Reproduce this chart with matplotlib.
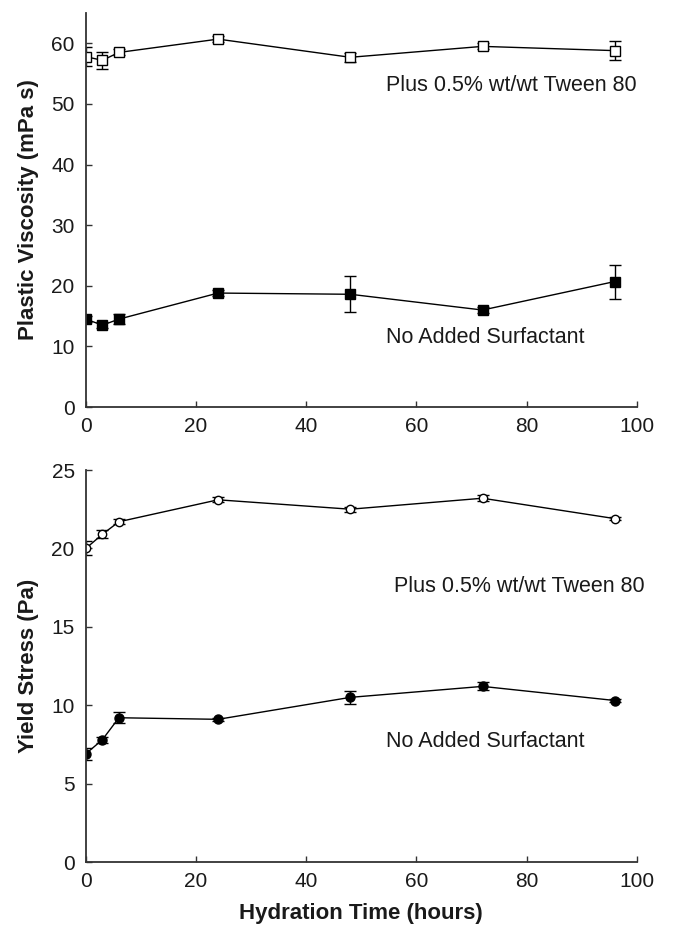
import matplotlib
matplotlib.use("Agg")
import matplotlib.pyplot as plt

plt.rcParams['font.family'] = ['Liberation Sans', 'DejaVu Sans']

hours = [0, 3, 6, 24, 48, 72, 96]

pv_tween = [57.8, 57.2, 58.5, 60.7, 57.7, 59.5, 58.8]
pv_tween_err = [1.6, 1.4, 0.5, 0.5, 0.7, 0.5, 1.6]
pv_none = [14.5, 13.5, 14.5, 18.8, 18.6, 16.0, 20.7]
pv_none_err = [0.5, 0.5, 0.8, 0.5, 3.0, 0.5, 2.8]

ys_tween = [20.0, 20.9, 21.7, 23.1, 22.5, 23.2, 21.9]
ys_tween_err = [0.45, 0.25, 0.15, 0.15, 0.15, 0.2, 0.1]
ys_none = [6.9, 7.8, 9.2, 9.1, 10.5, 11.2, 10.3]
ys_none_err = [0.4, 0.2, 0.35, 0.1, 0.4, 0.25, 0.1]

fig = plt.figure(figsize=(6.76, 9.32), dpi=100)
ax1 = fig.add_axes([0.127, 0.5633, 0.815, 0.4227])
ax2 = fig.add_axes([0.127, 0.0751, 0.815, 0.4206])

lc = '#333333'
tc = '#1a1a1a'
common = dict(color='black', lw=1.0, elinewidth=1.0, capsize=4, capthick=1.0, ecolor='black')

ax1.errorbar(hours, pv_tween, yerr=pv_tween_err, marker='s', ms=6.5, mfc='white', mec='black', mew=1.0, **common)
ax1.errorbar(hours, pv_none, yerr=pv_none_err, marker='s', ms=6.5, mfc='black', mec='black', **common)
ax2.errorbar(hours, ys_tween, yerr=ys_tween_err, marker='o', ms=6, mfc='white', mec='black', mew=1.0, **common)
ax2.errorbar(hours, ys_none, yerr=ys_none_err, marker='o', ms=6.5, mfc='black', mec='black', **common)

ax1.set_xlim(0, 100)
ax1.set_ylim(0, 65)
ax1.set_yticks([0, 10, 20, 30, 40, 50, 60])
ax2.set_xlim(0, 100)
ax2.set_ylim(0, 25)
ax2.set_yticks([0, 5, 10, 15, 20, 25])

for ax in (ax1, ax2):
    ax.set_xticks([0, 20, 40, 60, 80, 100])
    ax.spines['top'].set_visible(False)
    ax.spines['right'].set_visible(False)
    for s in ('left', 'bottom'):
        ax.spines[s].set_color(lc)
        ax.spines[s].set_linewidth(1.3)
    ax.tick_params(direction='in', length=4, width=1.0, colors=lc, labelcolor=tc, labelsize=15)
    ax.tick_params(axis='y', pad=8)
    ax.tick_params(axis='x', pad=7)
    ax.set_facecolor('white')

ax1.set_ylabel('Plastic Viscosity (mPa s)', fontsize=16, fontweight='bold', color=tc, labelpad=9)
ax2.set_ylabel('Yield Stress (Pa)', fontsize=16, fontweight='bold', color=tc, labelpad=9)
ax2.set_xlabel('Hydration Time (hours)', fontsize=16, fontweight='bold', color=tc, labelpad=9)

ax1.text(54.5, 53, 'Plus 0.5% wt/wt Tween 80', fontsize=15.5, color=tc, va='center')
ax1.text(54.5, 11.5, 'No Added Surfactant', fontsize=15.5, color=tc, va='center')
ax2.text(56.0, 17.6, 'Plus 0.5% wt/wt Tween 80', fontsize=15.5, color=tc, va='center')
ax2.text(54.5, 7.7, 'No Added Surfactant', fontsize=15.5, color=tc, va='center')

fig.savefig('out.png', dpi=100, facecolor='white')
